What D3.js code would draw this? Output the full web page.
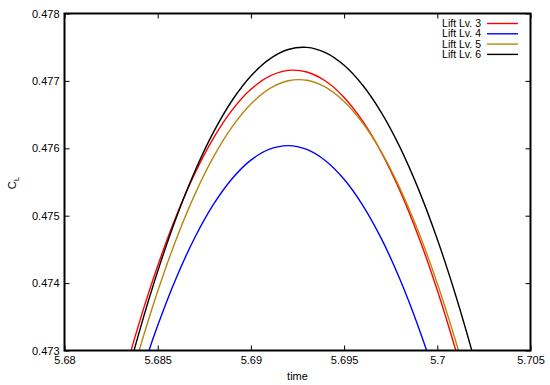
<!DOCTYPE html>
<html>
<head>
<meta charset="utf-8">
<script src="https://cdn.jsdelivr.net/npm/d3@7"></script>
<style>
  body { margin: 0; background: #fff; }
  text { font-family: "Liberation Sans", Arial, sans-serif; font-size: 11px; fill: #000; }
</style>
</head>
<body>
<svg id="chart"></svg>
<script>
// time samples
const time = [5.683, 5.684, 5.685, 5.686, 5.687, 5.688, 5.689, 5.690, 5.691, 5.692,
              5.693, 5.694, 5.695, 5.696, 5.697, 5.698, 5.699, 5.700, 5.701, 5.702, 5.703];

// C_L per refinement level
const lift3 = [0.472441, 0.473403, 0.474256, 0.474999, 0.475632, 0.476156, 0.476570, 0.476875, 0.477070, 0.477156,
               0.477132, 0.476998, 0.476755, 0.476402, 0.475939, 0.475367, 0.474685, 0.473894, 0.472993, 0.471983, 0.470870];
const lift4 = [0.471600, 0.472550, 0.473370, 0.474080, 0.474681, 0.475172, 0.475553, 0.475825, 0.475987, 0.476040,
               0.475983, 0.475816, 0.475540, 0.475154, 0.474659, 0.474054, 0.473339, 0.472515, 0.471580, 0.470540, 0.469390];
const lift5 = [0.472001, 0.472995, 0.473880, 0.474655, 0.475320, 0.475876, 0.476322, 0.476658, 0.476885, 0.477002,
               0.477010, 0.476908, 0.476696, 0.476375, 0.475945, 0.475404, 0.474754, 0.473995, 0.473126, 0.472147, 0.471060];
const lift6 = [0.472248, 0.473266, 0.474175, 0.474974, 0.475663, 0.476243, 0.476713, 0.477073, 0.477324, 0.477466,
               0.477498, 0.477420, 0.477232, 0.476935, 0.476529, 0.476013, 0.475387, 0.474651, 0.473806, 0.472852, 0.471788];

const seriesNames = ['Lift Lv. 3', 'Lift Lv. 4', 'Lift Lv. 5', 'Lift Lv. 6'];
const seriesColors = ['#ff0000', '#0000ff', '#b8860b', '#000000'];

const xTicks = [5.68, 5.685, 5.69, 5.695, 5.7, 5.705];
const yTicks = [0.473, 0.474, 0.475, 0.476, 0.477, 0.478];

const width = 550, height = 385;
const mLeft = 64.5, mRight = 530.5, mTop = 13.5, mBottom = 350.5;

const svg = d3.select('#chart')
  .attr('width', width)
  .attr('height', height);

const xScale = d3.scaleLinear().domain([5.68, 5.705]).range([mLeft, mRight]);
const yScale = d3.scaleLinear().domain([0.473, 0.478]).range([mBottom, mTop]);

svg.append('clipPath').attr('id', 'plot-clip')
  .append('rect')
  .attr('x', mLeft).attr('y', mTop)
  .attr('width', mRight - mLeft).attr('height', mBottom - mTop);

// axes: ticks pointing inward, mirrored on top/right
const tickLen = 5;
svg.append('g')
  .attr('transform', `translate(0, ${mBottom})`)
  .call(d3.axisBottom(xScale).tickValues(xTicks).tickSizeInner(-tickLen).tickSizeOuter(0).tickPadding(6).tickFormat(d3.format('')))
  .call(g => g.select('.domain').remove());
svg.append('g')
  .attr('transform', `translate(0, ${mTop})`)
  .call(d3.axisTop(xScale).tickValues(xTicks).tickSizeInner(-tickLen).tickSizeOuter(0).tickFormat(''))
  .call(g => g.select('.domain').remove());
svg.append('g')
  .attr('transform', `translate(${mLeft}, 0)`)
  .call(d3.axisLeft(yScale).tickValues(yTicks).tickSizeInner(-tickLen).tickSizeOuter(0).tickPadding(5).tickFormat(d3.format('.3f')))
  .call(g => g.select('.domain').remove());
svg.append('g')
  .attr('transform', `translate(${mRight}, 0)`)
  .call(d3.axisRight(yScale).tickValues(yTicks).tickSizeInner(-tickLen).tickSizeOuter(0).tickFormat(''))
  .call(g => g.select('.domain').remove());

svg.selectAll('.tick line').attr('stroke', '#000').attr('stroke-width', 1);
svg.selectAll('.tick text').style('font-size', '11px').attr('fill', '#000');

const line = d3.line()
  .x((d, i) => xScale(time[i]))
  .y(d => yScale(d))
  .curve(d3.curveCatmullRom);

const plot = svg.append('g').attr('clip-path', 'url(#plot-clip)');
[lift3, lift4, lift5, lift6].forEach((vals, k) => {
  plot.append('path')
    .datum(vals)
    .attr('d', line)
    .attr('fill', 'none')
    .attr('stroke', seriesColors[k])
    .attr('stroke-width', 1.4);
});

// border
svg.append('rect')
  .attr('x', mLeft).attr('y', mTop)
  .attr('width', mRight - mLeft).attr('height', mBottom - mTop)
  .attr('fill', 'none')
  .attr('stroke', '#000')
  .attr('stroke-width', 2);

// axis titles
svg.append('text')
  .attr('x', (mLeft + mRight) / 2).attr('y', 380)
  .attr('text-anchor', 'middle')
  .text('time');

const ylab = svg.append('text')
  .attr('transform', 'translate(16, 183) rotate(-90)')
  .attr('text-anchor', 'middle');
ylab.append('tspan').text('C');
ylab.append('tspan').attr('dy', 3).style('font-size', '8px').text('L');

// legend (tight row spacing like the original key)
const legend = svg.append('g');
seriesNames.forEach((name, k) => {
  const yy = 23.5 + k * 10.3;
  legend.append('text')
    .attr('x', 481).attr('y', yy)
    .attr('dy', '0.35em')
    .attr('text-anchor', 'end')
    .style('font-size', '10.5px')
    .text(name);
  legend.append('line')
    .attr('x1', 487).attr('x2', 518)
    .attr('y1', yy).attr('y2', yy)
    .attr('stroke', seriesColors[k])
    .attr('stroke-width', 1.4);
});
</script>
</body>
</html>
